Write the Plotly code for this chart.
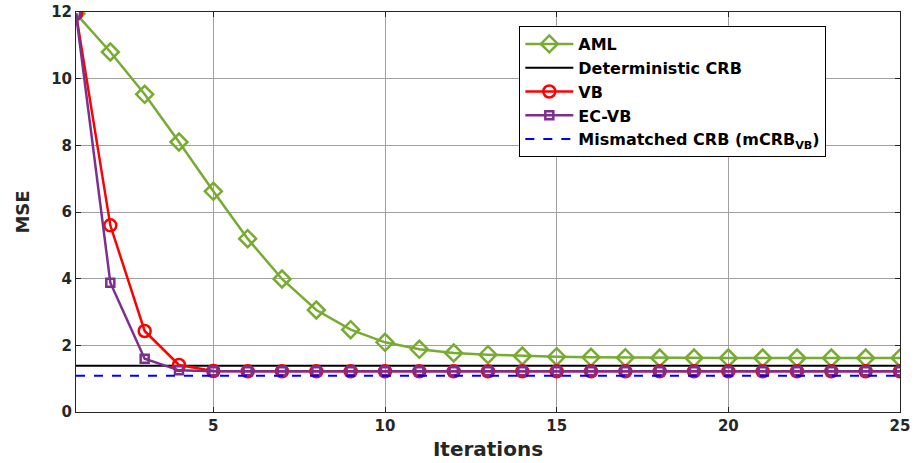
import plotly.graph_objects as go

iterations = list(range(1, 26))
aml = [11.95, 10.8, 9.53, 8.1, 6.62, 5.2, 3.99, 3.06, 2.47, 2.09, 1.88, 1.77, 1.72, 1.68, 1.66,
       1.64, 1.63, 1.62, 1.62, 1.62, 1.62, 1.62, 1.62, 1.62, 1.62]
vb = [11.95, 5.6, 2.43, 1.41, 1.23, 1.22, 1.22, 1.22, 1.22, 1.22, 1.22, 1.22, 1.22, 1.22, 1.22,
      1.22, 1.22, 1.22, 1.22, 1.22, 1.22, 1.22, 1.22, 1.22, 1.22]
ecvb = [11.95, 3.88, 1.6, 1.25, 1.22, 1.22, 1.22, 1.22, 1.22, 1.22, 1.22, 1.22, 1.22, 1.22, 1.22,
        1.22, 1.22, 1.22, 1.22, 1.22, 1.22, 1.22, 1.22, 1.22, 1.22]
det_crb = 1.39
mcrb = 1.09
x_ticks = [5, 10, 15, 20, 25]
y_ticks = [0, 2, 4, 6, 8, 10, 12]

font = "DejaVu Sans, Arial, sans-serif"
dark = "#262626"
grid = "#a0a0a0"

fig = go.Figure()
fig.add_trace(go.Scatter(x=iterations, y=aml, name="AML", mode="lines+markers",
                         line=dict(color="#77AC30", width=2.5),
                         marker=dict(symbol="diamond-open", size=13, color="#77AC30", line=dict(width=2.5))))
fig.add_trace(go.Scatter(x=iterations, y=[det_crb] * len(iterations), name="Deterministic CRB",
                         mode="lines", line=dict(color="black", width=2)))
fig.add_trace(go.Scatter(x=iterations, y=vb, name="VB", mode="lines+markers",
                         line=dict(color="#FF0000", width=2.5),
                         marker=dict(symbol="circle-open", size=12, color="#FF0000", line=dict(width=2.5))))
fig.add_trace(go.Scatter(x=iterations, y=ecvb, name="EC-VB", mode="lines+markers",
                         line=dict(color="#7E2F8E", width=2.5),
                         marker=dict(symbol="square-open", size=8, color="#7E2F8E", line=dict(width=2.5))))
fig.add_trace(go.Scatter(x=iterations, y=[mcrb] * len(iterations),
                         name="Mismatched CRB (mCRB<sub>VB</sub>)",
                         mode="lines", line=dict(color="#0000FF", width=2, dash="dash")))

fig.update_layout(
    width=914, height=463,
    margin=dict(l=76, r=14, t=12, b=51),
    paper_bgcolor="white", plot_bgcolor="white",
    font=dict(family=font, size=15, color=dark, weight="bold"),
    showlegend=True,
    legend=dict(x=0.538, y=0.965, xanchor="left", yanchor="top",
                bgcolor="white", bordercolor="black", borderwidth=1,
                font=dict(family=font, size=16, color="black", weight="bold"),
                tracegroupgap=0, itemwidth=48),
)
fig.update_xaxes(range=[1, 25], tickvals=x_ticks,
                 tickfont=dict(family=font, size=15, color=dark, weight="bold"),
                 showgrid=True, gridcolor=grid, gridwidth=1,
                 showline=True, linecolor=dark, linewidth=1, mirror="ticks",
                 ticks="inside", ticklen=5, tickcolor=dark,
                 zeroline=False, automargin=False,
                 title=dict(text="Iterations", font=dict(family=font, size=20, color=dark, weight="bold"),
                            standoff=7))
fig.update_yaxes(range=[0, 12], tickvals=y_ticks,
                 tickfont=dict(family=font, size=15, color=dark, weight="bold"),
                 showgrid=True, gridcolor=grid, gridwidth=1,
                 showline=True, linecolor=dark, linewidth=1, mirror="ticks",
                 ticks="inside", ticklen=5, tickcolor=dark,
                 zeroline=False, automargin=False,
                 title=dict(text="MSE", font=dict(family=font, size=18, color=dark, weight="bold"),
                            standoff=16))

fig.write_html("out.html", config={"displayModeBar": False},
               post_script="document.body.style.margin='0';")
